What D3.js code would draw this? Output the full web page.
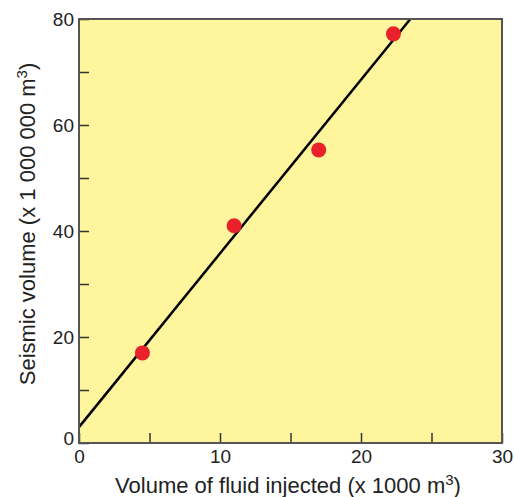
<!DOCTYPE html>
<html>
<head>
<meta charset="utf-8">
<script src="https://cdn.jsdelivr.net/npm/d3@7"></script>
<style>
  body { margin: 0; background: #fff; }
  text { font-family: "Liberation Sans", Arial, sans-serif; fill: #222; }
</style>
</head>
<body>
<script>
// data
var injected = [4.5, 11.0, 17.0, 22.3];       // x 1000 m3
var seismic = [17.0, 41.0, 55.3, 77.2];       // x 1 000 000 m3
var fitLine = [[0, 3], [23.5, 80]];           // straight fit, end points
var xTicks = [0, 5, 10, 15, 20, 25, 30];
var yTicks = [0, 10, 20, 30, 40, 50, 60, 70, 80];

var width = 514, height = 497;
var margin = {top: 19, right: 12, bottom: 54, left: 79};

var svg = d3.select("body").append("svg")
  .attr("width", width)
  .attr("height", height);

var plotW = width - margin.left - margin.right,
    plotH = height - margin.top - margin.bottom;

var x = d3.scaleLinear().domain([0, 30]).range([0, plotW]);
var y = d3.scaleLinear().domain([0, 80]).range([plotH, 0]);

var g = svg.append("g")
  .attr("transform", "translate(" + margin.left + "," + margin.top + ")");

g.append("rect")
  .attr("width", plotW)
  .attr("height", plotH)
  .attr("fill", "#fef59c");

// clip so the line stops at the frame
g.append("clipPath").attr("id", "clip")
  .append("rect").attr("width", plotW).attr("height", plotH);

g.append("path")
  .datum(fitLine)
  .attr("clip-path", "url(#clip)")
  .attr("fill", "none")
  .attr("stroke", "#000")
  .attr("stroke-width", 2.5)
  .attr("d", d3.line().x(function(d) { return x(d[0]); }).y(function(d) { return y(d[1]); }));

g.selectAll(".pt")
  .data(injected)
  .enter()
  .append("circle")
  .attr("class", "pt")
  .attr("cx", function(d) { return x(d); })
  .attr("cy", function(d, i) { return y(seismic[i]); })
  .attr("r", 7.5)
  .attr("fill", "#e8212b");

// axes, ticks point inward
var xAxis = d3.axisBottom(x).tickValues(xTicks).tickSizeInner(-10).tickSizeOuter(0)
  .tickFormat(function(d) { return d % 10 === 0 ? d : ""; });
var yAxis = d3.axisLeft(y).tickValues(yTicks).tickSizeInner(-10).tickSizeOuter(0)
  .tickFormat(function(d) { return d % 20 === 0 ? d : ""; });

var gx = g.append("g").attr("transform", "translate(0," + plotH + ")").call(xAxis);
var gy = g.append("g").call(yAxis);

[gx, gy].forEach(function(a) {
  a.attr("font-size", 19).attr("font-family", null);
  a.select(".domain").remove();
  a.selectAll("line").attr("stroke", "#333").attr("stroke-width", 1.5);
  a.selectAll("text").attr("fill", "#222");
});
gx.selectAll("text").attr("dy", "0.71em").attr("y", 7);
gy.selectAll("text").attr("x", -5);
gy.selectAll(".tick").filter(function(d) { return d === 0; }).select("text").attr("dy", "0.1em");

// frame
g.append("rect")
  .attr("width", plotW)
  .attr("height", plotH)
  .attr("fill", "none")
  .attr("stroke", "#555")
  .attr("stroke-width", 2);

// titles
var xt = svg.append("text")
  .attr("x", 288)
  .attr("y", 493)
  .attr("text-anchor", "middle")
  .attr("font-size", 22);
xt.append("tspan").text("Volume of fluid injected (x 1000 m");
xt.append("tspan").attr("dy", -8).attr("font-size", 15).text("3");
xt.append("tspan").attr("dy", 8).text(")");

var yt = svg.append("text")
  .attr("transform", "translate(35,224) rotate(-90)")
  .attr("text-anchor", "middle")
  .attr("font-size", 22);
yt.append("tspan").text("Seismic volume (x 1 000 000 m");
yt.append("tspan").attr("dy", -8).attr("font-size", 15).text("3");
yt.append("tspan").attr("dy", 8).text(")");
</script>
</body>
</html>
